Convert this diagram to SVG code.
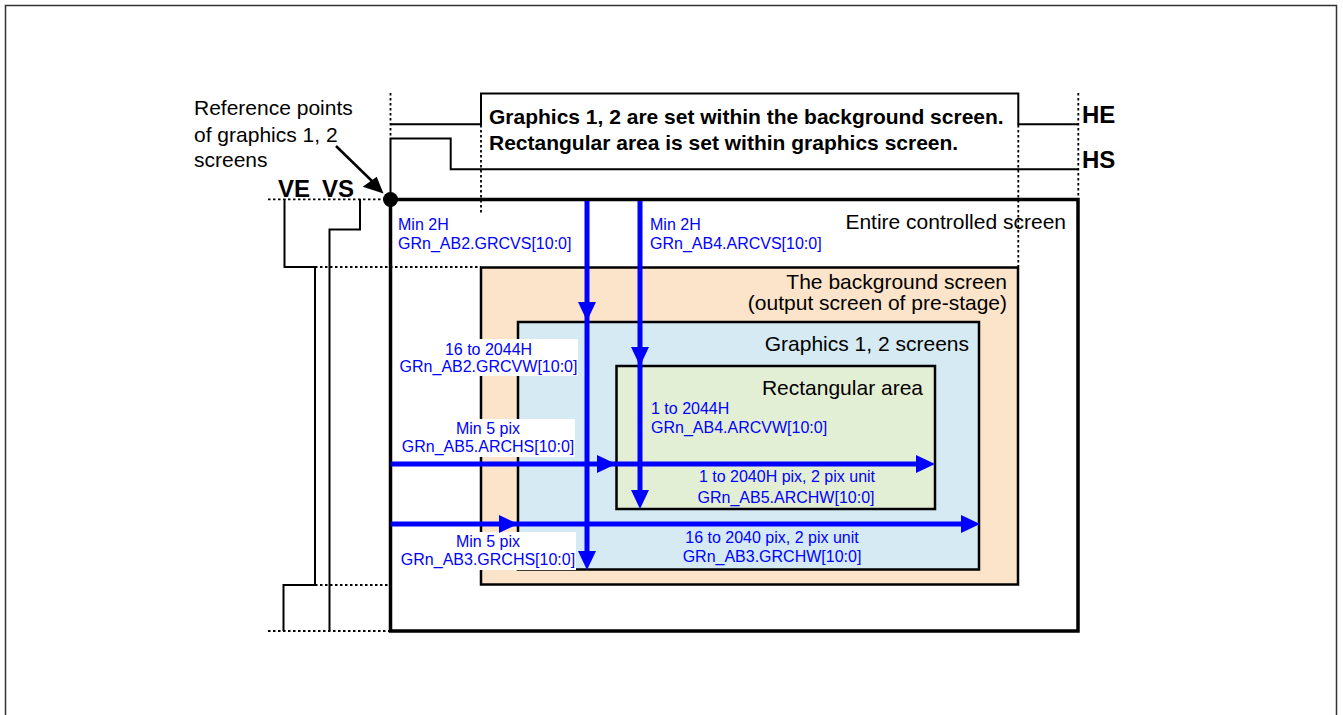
<svg xmlns="http://www.w3.org/2000/svg" width="1343" height="715" viewBox="0 0 1343 715">
<style>
.frame{fill:none;stroke:#333;stroke-width:1.5}
.thin{fill:none;stroke:#000;stroke-width:2}
.dot{fill:none;stroke:#000;stroke-width:1.8;stroke-dasharray:2.5 2.5}
.lbl{font-family:"Liberation Sans",Arial,sans-serif;font-size:21px;fill:#000}
.bold{font-family:"Liberation Sans",Arial,sans-serif;font-weight:bold;fill:#000}
.blue{font-family:"Liberation Sans",Arial,sans-serif;font-size:16px;fill:#0000FF}
.ar{stroke:#0000FF;stroke-width:5;fill:none}
.ah{fill:#0000FF}
.wb{fill:#fff}
</style>
<defs>
<path id="hd" d="M-9,-19 L9,-19 L0,0 Z"/>
<path id="hr" d="M-19,-9 L-19,9 L0,0 Z"/>
</defs>
<rect class="frame" x="5.5" y="5.5" width="1331" height="730"/>

<g id="entire-screen">
<rect x="390.5" y="199.5" width="687.5" height="431.5" fill="none" stroke="#000" stroke-width="3.5"/>
<text class="lbl" x="1066" y="229" text-anchor="end">Entire controlled screen</text>
</g>

<g id="timing">
<path class="thin" d="M390.5,124.3 H481 V93.5 H1018.3 V124.3 H1078"/>
<path class="thin" d="M390.5,199 V138.5 H450.7 V169.3 H1078"/>
<path class="thin" d="M284.5,199 V267 H315 V585 H283.5 V631"/>
<path class="thin" d="M360,199 V229.5 H329.5 V631"/>
<path class="dot" d="M390.5,93 V138"/>
<path class="dot" d="M481,125 V214"/>
<path class="dot" d="M1018.3,125 V267"/>
<path class="dot" d="M1078.3,93 V199"/>
<path class="dot" d="M268,199.3 H384"/>
<path class="dot" d="M315,267 H481"/>
<path class="dot" d="M315,585 H390"/>
<path class="dot" d="M268,631 H390"/>
<text class="bold" x="489" y="124" font-size="21">Graphics 1, 2 are set within the background screen.</text>
<text class="bold" x="489" y="150" font-size="21">Rectangular area is set within graphics screen.</text>
<text class="bold" x="1082" y="123.3" font-size="24">HE</text>
<text class="bold" x="1082" y="168.3" font-size="24">HS</text>
<text class="bold" x="278" y="196.7" font-size="24">VE</text>
<text class="bold" x="322" y="196.7" font-size="24">VS</text>
</g>

<g id="reference-label">
<text class="lbl" x="194" y="115">Reference points</text>
<text class="lbl" x="194" y="141.5">of graphics 1, 2</text>
<text class="lbl" x="194" y="166.7">screens</text>
<line x1="336" y1="146" x2="374" y2="183" stroke="#000" stroke-width="2.5"/>
<polygon points="383.5,193.5 362.7,186.7 376.7,176.7" fill="#000"/>
</g>

<g id="background-screen">
<rect x="481" y="267.5" width="537" height="317" fill="#FCE4CA" stroke="#000" stroke-width="2.5"/>
<text class="lbl" x="1007" y="289" text-anchor="end">The background screen</text>
<text class="lbl" x="1007" y="310" text-anchor="end">(output screen of pre-stage)</text>
</g>

<g id="graphics-screens">
<rect x="518" y="322" width="461" height="247.5" fill="#D5EAF2" stroke="#000" stroke-width="2.5"/>
<text class="lbl" x="969" y="351" text-anchor="end">Graphics 1, 2 screens</text>
</g>

<g id="rectangular-area">
<rect x="616.5" y="366" width="318.5" height="143" fill="#E3EFD5" stroke="#000" stroke-width="2.5"/>
<text class="lbl" x="923" y="395" text-anchor="end">Rectangular area</text>
</g>

<circle id="reference-point" cx="390.5" cy="199.5" r="7.5" fill="#000"/>

<g id="label-boxes">
<rect class="wb" x="396" y="339" width="182" height="37"/>
<rect class="wb" x="401" y="419" width="174" height="38"/>
<rect class="wb" x="401" y="532" width="175" height="38"/>
</g>

<g id="connectors">
<line class="ar" x1="587" y1="201" x2="587" y2="560"/>
<use href="#hd" class="ah" x="587" y="321"/>
<use href="#hd" class="ah" x="587" y="570"/>
<line class="ar" x1="640" y1="201" x2="640" y2="500"/>
<use href="#hd" class="ah" x="640" y="366"/>
<use href="#hd" class="ah" x="640" y="509"/>
<line class="ar" x1="391" y1="464" x2="925" y2="464"/>
<use href="#hr" class="ah" x="616" y="464"/>
<use href="#hr" class="ah" x="935" y="464"/>
<line class="ar" x1="391" y1="524" x2="970" y2="524"/>
<use href="#hr" class="ah" x="518" y="524"/>
<use href="#hr" class="ah" x="980" y="524"/>
</g>

<g id="blue-labels">
<text class="blue" x="398" y="230">Min 2H</text>
<text class="blue" x="398" y="249">GRn_AB2.GRCVS[10:0]</text>
<text class="blue" x="650" y="230">Min 2H</text>
<text class="blue" x="650" y="249">GRn_AB4.ARCVS[10:0]</text>
<text class="blue" x="488.5" y="354.5" text-anchor="middle">16 to 2044H</text>
<text class="blue" x="488.5" y="372" text-anchor="middle">GRn_AB2.GRCVW[10:0]</text>
<text class="blue" x="488" y="433.5" text-anchor="middle">Min 5 pix</text>
<text class="blue" x="488" y="452" text-anchor="middle">GRn_AB5.ARCHS[10:0]</text>
<text class="blue" x="488" y="547" text-anchor="middle">Min 5 pix</text>
<text class="blue" x="488" y="565" text-anchor="middle">GRn_AB3.GRCHS[10:0]</text>
<text class="blue" x="651" y="414">1 to 2044H</text>
<text class="blue" x="651" y="433">GRn_AB4.ARCVW[10:0]</text>
<text class="blue" x="787" y="482" text-anchor="middle">1 to 2040H pix, 2 pix unit</text>
<text class="blue" x="786" y="503" text-anchor="middle">GRn_AB5.ARCHW[10:0]</text>
<text class="blue" x="772" y="543" text-anchor="middle">16 to 2040 pix, 2 pix unit</text>
<text class="blue" x="772" y="562" text-anchor="middle">GRn_AB3.GRCHW[10:0]</text>
</g>
</svg>
